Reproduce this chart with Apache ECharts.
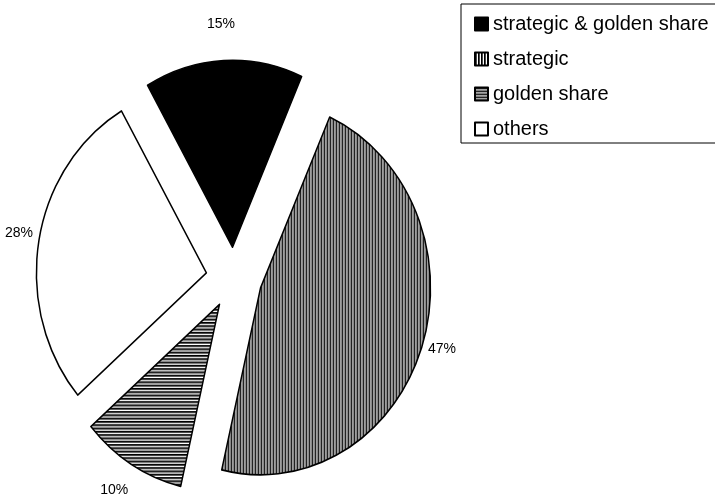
<!DOCTYPE html>
<html>
<head>
<meta charset="utf-8">
<script src="https://cdn.jsdelivr.net/npm/echarts@6/dist/echarts.min.js"></script>
<style>
  html, body { margin: 0; padding: 0; background: #fff; }
  #chart { width: 715px; height: 498px; }
</style>
</head>
<body>
<div id="chart"></div>
<script>
// Share of privatised companies by type of special right
const categories = ['strategic & golden share', 'strategic', 'golden share', 'others'];
const shares = [15, 47, 10, 28];

const FONT = '"Liberation Sans", Arial, Helvetica, sans-serif';
const PIE_CENTER = [234, 278];
const PIE_RADIUS = 170;
const PIE_STRETCH = 1.1;   // the pie is drawn slightly taller than wide
const EXPLODE = 28;
const START = 120;

// nudges for the percentage labels, per slice
const labelNudge = [[17, -44], [-10, 4], [8, 33], [11, -10]];

// Hatched fills drawn on tiny canvases and tiled by the renderer
function stripes(vertical) {
  const c = document.createElement('canvas');
  c.width = vertical ? 3 : 1;
  c.height = vertical ? 1 : 3;
  const ctx = c.getContext('2d');
  const tones = ['#000', '#4a4a4a', '#fff'];
  tones.forEach((t, i) => {
    ctx.fillStyle = t;
    if (vertical) ctx.fillRect(i, 0, 1, 1);
    else ctx.fillRect(0, i, 1, 1);
  });
  return { image: c, repeat: 'repeat' };
}

const fills = ['#000', stripes(true), stripes(false), '#fff'];

const pieBase = {
  type: 'pie',
  center: PIE_CENTER,
  radius: PIE_RADIUS,
  startAngle: START,
  clockwise: true,
  avoidLabelOverlap: false,
  selectedMode: 'multiple',
  selectedOffset: EXPLODE,
  emphasis: { disabled: true }
};

const chart = echarts.init(document.getElementById('chart'), null, { renderer: 'canvas' });

chart.setOption({
  animation: false,
  backgroundColor: '#fff',
  legend: {
    orient: 'vertical',
    left: 461,
    top: 4,
    padding: [10, 40, 4, 13],
    borderColor: '#000',
    borderWidth: 1,
    icon: 'rect',
    itemWidth: 13,
    itemHeight: 13,
    itemGap: 15,
    selectedMode: false,
    textStyle: { fontSize: 20, fontFamily: FONT, color: '#000' },
    data: categories
  },
  series: [
    // the slices
    Object.assign({}, pieBase, {
      id: 'slices',
      itemStyle: { borderColor: '#000', borderWidth: 1.5 },
      select: { itemStyle: { borderColor: '#000', borderWidth: 1.5 } },
      label: { show: false },
      labelLine: { show: false },
      data: categories.map((name, i) => ({
        name: name, value: shares[i], selected: true, itemStyle: { color: fills[i] }
      }))
    }),
    // the percentage labels
    Object.assign({}, pieBase, {
      id: 'labels',
      silent: true,
      itemStyle: { color: 'transparent', borderWidth: 0 },
      select: { itemStyle: { color: 'transparent', borderWidth: 0 } },
      label: {
        show: true,
        position: 'outside',
        formatter: '{c}%',
        fontSize: 14,
        fontFamily: FONT,
        color: '#000'
      },
      labelLine: { show: false, length: 12, length2: 0 },
      labelLayout: function (p) {
        const n = labelNudge[p.dataIndex];
        return { dx: n[0], dy: n[1] };
      },
      data: categories.map((name, i) => ({ name: name, value: shares[i], selected: true }))
    })
  ]
});

// Stretch the slice view vertically about the pie centre
function stretchSlices() {
  const zr = chart.getZr();
  zr.storage.getRoots().forEach(root => {
    let drawn = false;
    if (root.traverse) {
      root.traverse(el => {
        if (el.type === 'sector' && el.style && el.style.lineWidth > 0) drawn = true;
      });
    }
    if (drawn) {
      root.originX = PIE_CENTER[0];
      root.originY = PIE_CENTER[1];
      root.scaleY = PIE_STRETCH;
      root.traverse(el => el.markRedraw && el.markRedraw());
      root.markRedraw();
    }
  });
  zr.refreshImmediately();
}
stretchSlices();
</script>
</body>
</html>
